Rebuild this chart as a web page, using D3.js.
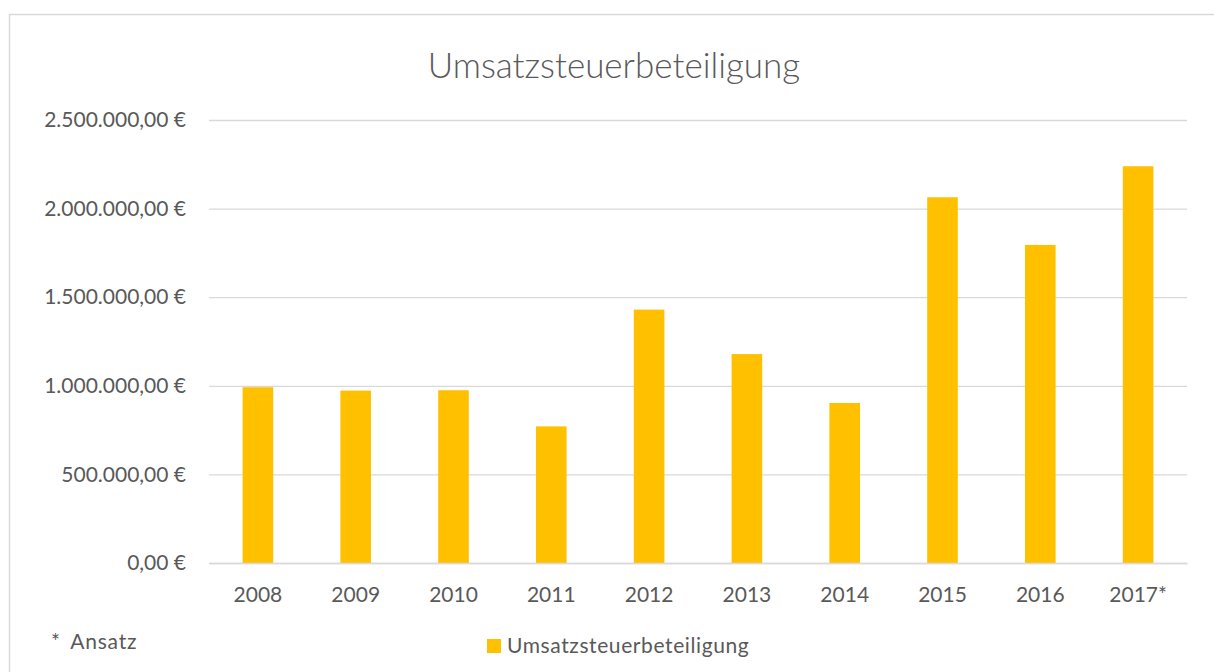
<!DOCTYPE html>
<html>
<head>
<meta charset="utf-8">
<script src="https://cdn.jsdelivr.net/npm/d3@7"></script>
<style>
  body { margin: 0; background: #fff; }
  svg text { font-family: Lato, "Open Sans", sans-serif; fill: #595959; }
</style>
</head>
<body>
<div id="chart"></div>
<script>
// data
var years = ['2008', '2009', '2010', '2011', '2012', '2013', '2014', '2015', '2016', '2017*'];
var umsatzsteuer = [992000, 973000, 975000, 771000, 1430000, 1179000, 903000, 2064000, 1795000, 2239000];
var yTicks = [0, 500000, 1000000, 1500000, 2000000, 2500000];
var title = 'Umsatzsteuerbeteiligung';
var seriesName = 'Umsatzsteuerbeteiligung';
var footnote = '* Ansatz';

var w = 1214;
var h = 672;
var plotLeft = 209, plotRight = 1187, plotTop = 120, plotBottom = 563;
var labelSize = '21px';

var de = d3.formatLocale({ decimal: ',', thousands: '.', grouping: [3], currency: ['', ' €'] });
var euro = de.format('$,.2f');

var svg = d3.select('#chart').append('svg')
    .attr('width', w)
    .attr('height', h);

// chart area border
svg.append('rect')
    .attr('x', 9.5).attr('y', 14.5)
    .attr('width', 1212).attr('height', 680)
    .attr('fill', '#fff')
    .attr('stroke', '#d9d9d9')
    .attr('stroke-width', 1.5);

var xScale = d3.scaleBand()
    .domain(years)
    .range([plotLeft, plotRight])
    .paddingInner(0.687)
    .paddingOuter(0.687 / 2);

var yScale = d3.scaleLinear()
    .domain([0, 2500000])
    .range([plotBottom, plotTop]);

// gridlines + y labels
var yAxis = d3.axisLeft(yScale)
    .tickValues(yTicks)
    .tickSize(-(plotRight - plotLeft))
    .tickPadding(23)
    .tickFormat(euro);

svg.append('g')
    .attr('id', 'yAxis')
    .attr('transform', 'translate(' + plotLeft + ',0)')
    .call(yAxis)
    .call(function (g) {
        g.select('.domain').remove();
        g.selectAll('.tick line').attr('stroke', '#d9d9d9').attr('stroke-width', 1.3);
        g.selectAll('.tick text').style('font-size', labelSize).style('fill', '#595959');
    });

svg.selectAll('rect.bar')
    .data(umsatzsteuer)
    .join('rect')
    .attr('class', 'bar')
    .attr('x', (d, i) => xScale(years[i]))
    .attr('y', d => yScale(d))
    .attr('width', xScale.bandwidth())
    .attr('height', d => plotBottom - yScale(d))
    .style('fill', '#ffc000');

// x axis
var xAxis = d3.axisBottom(xScale).tickSize(0).tickPadding(24);
svg.append('g')
    .attr('id', 'xAxis')
    .attr('transform', 'translate(0,' + plotBottom + ')')
    .call(xAxis)
    .call(function (g) {
        g.select('.domain').attr('stroke', '#d9d9d9').attr('stroke-width', 1.3);
        g.selectAll('.tick text').style('font-size', labelSize).style('fill', '#595959');
    });

svg.append('text')
    .attr('x', 614)
    .attr('y', 78)
    .attr('text-anchor', 'middle')
    .style('font-size', '35px')
    .style('font-weight', 300)
    .text(title);

svg.append('text')
    .attr('x', 51)
    .attr('y', 649)
    .style('font-size', labelSize)
    .style('letter-spacing', '0.8px')
    .style('word-spacing', '4px')
    .text(footnote);

// legend
svg.append('rect')
    .attr('x', 487).attr('y', 639)
    .attr('width', 14).attr('height', 14)
    .style('fill', '#ffc000');

svg.append('text')
    .attr('x', 507)
    .attr('y', 653)
    .style('font-size', labelSize)
    .style('letter-spacing', '0.6px')
    .text(seriesName);
</script>
</body>
</html>
